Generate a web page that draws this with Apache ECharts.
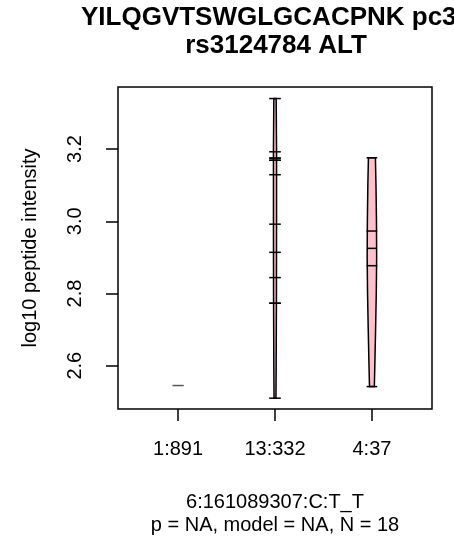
<!DOCTYPE html>
<html><head><meta charset="utf-8">
<script src="https://cdn.jsdelivr.net/npm/echarts@6/dist/echarts.min.js"></script>
<style>html,body{margin:0;padding:0;background:#fff}#c{width:454px;height:536px}</style>
</head><body><div id="c"></div>
<script>
// ---- data ----
const categories = ['1:891', '13:332', '4:37'];
const group1 = [2.545];
const group2 = [3.340, 3.1925, 3.175, 3.175, 3.169, 3.169, 3.129, 2.992, 2.914, 2.844, 2.773, 2.773, 2.510];
const group3 = [3.176, 2.973, 2.877, 2.542];
const yTicks = [2.6, 2.8, 3.0, 3.2];
// violin outlines (y levels and half widths in category units)
const violin2Y = [3.340, 3.2, 3.0, 2.8, 2.6, 2.510];
const violin2W = [0.012, 0.016, 0.016, 0.015, 0.012, 0.010];
const violin3Y = [3.176, 3.1, 3.0, 2.9, 2.8, 2.7, 2.6, 2.542];
const violin3W = [0.036, 0.042, 0.047, 0.049, 0.045, 0.038, 0.030, 0.025];

const FONT = '"Liberation Sans", Arial, Helvetica, sans-serif';

function median(a) {
  const s = a.slice().sort((p, q) => p - q);
  const n = s.length;
  return n % 2 ? s[(n - 1) / 2] : (s[n / 2 - 1] + s[n / 2]) / 2;
}

const violins = [
  { x: 2, ys: violin2Y, ws: violin2W },
  { x: 3, ys: violin3Y, ws: violin3W }
];

// tick marks: [x, y, halfWidth, colorIndex]
const tickData = [];
group1.forEach(v => tickData.push([1, v, 0.058, 1]));
group2.forEach(v => tickData.push([2, v, 0.06, 0]));
group3.forEach(v => tickData.push([3, v, 0.055, 0]));
tickData.push([3, median(group3), 0.05, 0]);

const chart = echarts.init(document.getElementById('c'), null, { renderer: 'canvas' });
chart.setOption({
  animation: false,
  backgroundColor: '#fff',
  grid: { left: 118, top: 87, right: 22, bottom: 127, show: true, borderColor: '#000', borderWidth: 1.5, backgroundColor: 'transparent' },
  xAxis: {
    type: 'value', min: 0.38, max: 3.62,
    axisLine: { show: false },
    splitLine: { show: false },
    axisTick: { show: true, customValues: [1, 2, 3], length: 12, lineStyle: { color: '#000', width: 1.5 } },
    axisLabel: { customValues: [1, 2, 3], formatter: v => categories[Math.round(v) - 1], fontSize: 20, color: '#000', fontFamily: FONT, margin: 30 }
  },
  yAxis: {
    type: 'value', min: 2.48, max: 3.372,
    axisLine: { show: false },
    splitLine: { show: false },
    axisTick: { show: true, customValues: yTicks, length: 12, lineStyle: { color: '#000', width: 1.5 } },
    axisLabel: { customValues: yTicks, formatter: v => v.toFixed(1), rotate: 90, fontSize: 20, color: '#000', fontFamily: FONT, margin: 33 }
  },
  series: [
    {
      type: 'custom',
      data: violins.map(v => [v.x, v.ys[0]]),
      renderItem: (params, api) => {
        const v = violins[params.dataIndex];
        const pts = [];
        for (let i = 0; i < v.ys.length; i++) pts.push(api.coord([v.x + v.ws[i], v.ys[i]]));
        for (let i = v.ys.length - 1; i >= 0; i--) pts.push(api.coord([v.x - v.ws[i], v.ys[i]]));
        return { type: 'polygon', shape: { points: pts }, style: { fill: '#FFC0CB', stroke: '#000', lineWidth: 1.5 } };
      },
      z: 2
    },
    {
      type: 'custom',
      data: tickData,
      renderItem: (params, api) => {
        const x = api.value(0), y = api.value(1), hw = api.value(2), c = api.value(3);
        const p1 = api.coord([x - hw, y]), p2 = api.coord([x + hw, y]);
        return { type: 'line', shape: { x1: p1[0], y1: p1[1], x2: p2[0], y2: p2[1] },
          style: { stroke: c ? '#555' : '#000', lineWidth: 1.5 } };
      },
      z: 3
    }
  ],
  graphic: [
    { type: 'text', left: 81, top: 5, style: { text: 'YILQGVTSWGLGCACPNK pc3', font: 'bold 26px ' + FONT, fill: '#000' } },
    { type: 'text', x: 276, y: 46, style: { text: 'rs3124784 ALT', font: 'bold 26px ' + FONT, fill: '#000', textAlign: 'center', textVerticalAlign: 'middle' } },
    { type: 'text', x: 30, y: 248, rotation: Math.PI / 2, style: { text: 'log10 peptide intensity', font: '20px ' + FONT, fill: '#000', textAlign: 'center', textVerticalAlign: 'middle' } },
    { type: 'text', x: 275, y: 502, style: { text: '6:161089307:C:T_T', font: '20px ' + FONT, fill: '#000', textAlign: 'center', textVerticalAlign: 'middle' } },
    { type: 'text', x: 275, y: 525, style: { text: 'p = NA, model = NA, N = 18', font: '20px ' + FONT, fill: '#000', textAlign: 'center', textVerticalAlign: 'middle' } }
  ]
});
</script></body></html>
